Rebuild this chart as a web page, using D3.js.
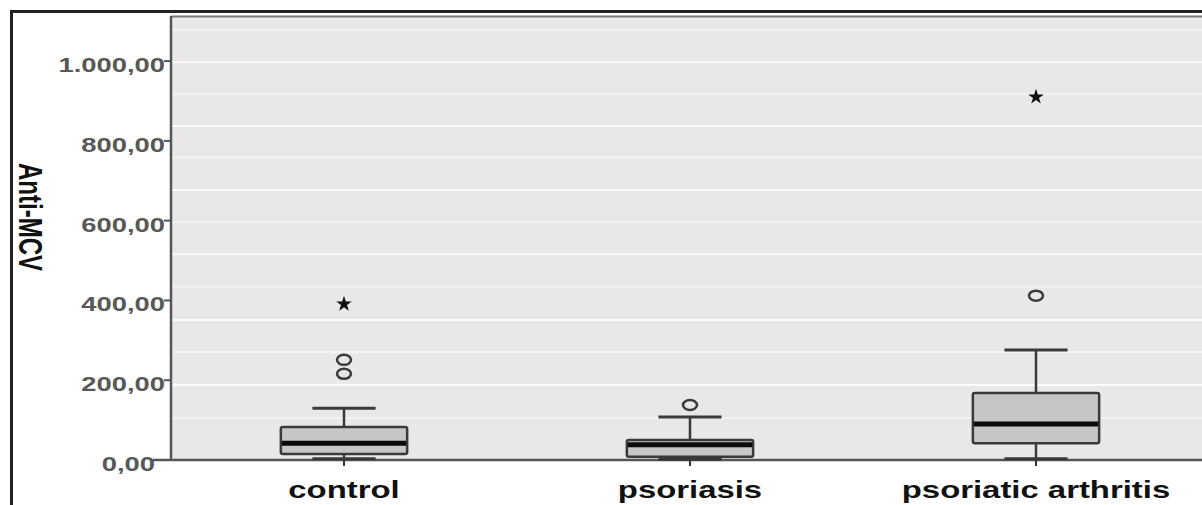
<!DOCTYPE html>
<html>
<head>
<meta charset="utf-8">
<script src="https://cdn.jsdelivr.net/npm/d3@7"></script>
<style>
  body { margin: 0; background: #fff; }
  svg { display: block; font-family: "Liberation Sans", Arial, sans-serif; }
</style>
</head>
<body>
<svg width="1202" height="505"></svg>
<script>
// data
var categories = ["control", "psoriasis", "psoriatic arthritis"];
var q1 = [15, 8, 42];
var medians = [42, 38, 90];
var q3 = [83, 50, 168];
var whiskerLow = [3, 2, 3];
var whiskerHigh = [130, 108, 276];
var outlierCircles = [[251, 216], [138], [412]];
var outlierStars = [[391], [], [910]];
var yTicks = [0, 200, 400, 600, 800, 1000];
var gridValues = [105, 188, 271, 351, 434, 516, 596, 677, 759, 837, 917, 997, 1078];

var svg = d3.select("svg"),
    width = +svg.attr("width"),
    height = +svg.attr("height");

var plotLeft = 171, plotRight = 1209, plotTop = 16, plotBottom = 460;
var sx = 1.37; // the source picture is stretched sideways

var y = d3.scaleLinear().domain([0, 1113]).range([plotBottom, plotTop]);
var x = d3.scaleBand().domain(categories).range([plotLeft, plotRight]).padding(0);

var locale = d3.formatLocale({decimal: ",", thousands: ".", grouping: [3], currency: ["", ""]});
var fmt = locale.format(",.2f");

var boxes = categories.map(function(c, i) {
  return {cat: c, q1: q1[i], med: medians[i], q3: q3[i], lo: whiskerLow[i], hi: whiskerHigh[i],
          circles: outlierCircles[i], stars: outlierStars[i]};
});

// outer frame
svg.append("line").attr("x1", 11.5).attr("x2", 11.5).attr("y1", 10).attr("y2", height)
    .attr("stroke", "#222").attr("stroke-width", 3);
svg.append("line").attr("x1", 10).attr("x2", width).attr("y1", 11.5).attr("y2", 11.5)
    .attr("stroke", "#222").attr("stroke-width", 3);

// plot background
svg.append("rect")
    .attr("x", plotLeft).attr("y", plotTop)
    .attr("width", plotRight - plotLeft).attr("height", plotBottom - plotTop)
    .attr("fill", "#e9e8e6");
svg.append("line").attr("x1", plotLeft).attr("x2", width).attr("y1", plotTop + 0.5).attr("y2", plotTop + 0.5)
    .attr("stroke", "#777").attr("stroke-width", 2);

// grid lines
svg.append("g")
  .selectAll("line")
    .data(gridValues)
  .enter().append("line")
    .attr("x1", plotLeft).attr("x2", plotRight)
    .attr("y1", function(d) { return y(d); })
    .attr("y2", function(d) { return y(d); })
    .attr("stroke", "#fff")
    .attr("stroke-width", 2)
    .attr("stroke-opacity", function(d, i) { return i % 2 ? 0.8 : 0.5; });

// y axis
var yAxis = svg.append("g").attr("class", "y-axis");
yAxis.append("line")
    .attr("x1", plotLeft).attr("x2", plotLeft).attr("y1", plotTop).attr("y2", plotBottom)
    .attr("stroke", "#555").attr("stroke-width", 2.5);
yAxis.selectAll("line.tick")
    .data(yTicks)
  .enter().append("line")
    .attr("class", "tick")
    .attr("x1", function(d) { return d === 0 ? 153 : 164; })
    .attr("x2", plotLeft)
    .attr("y1", function(d) { return y(d); })
    .attr("y2", function(d) { return y(d); })
    .attr("stroke", "#555").attr("stroke-width", 2);
yAxis.selectAll("text")
    .data(yTicks)
  .enter().append("text")
    .attr("transform", function(d) { return "translate(" + (d === 0 ? 155 : 165) + "," + (y(d) + 11) + ") scale(" + sx + ",1)"; })
    .attr("text-anchor", "end")
    .attr("font-size", 20)
    .attr("font-weight", "bold")
    .attr("fill", "#585858")
    .text(function(d) { return fmt(d); });

svg.append("text")
    .attr("transform", "translate(30," + 217 + ") scale(" + sx + ",1) rotate(90)")
    .attr("text-anchor", "middle")
    .attr("dominant-baseline", "central")
    .attr("font-size", 24)
    .attr("font-weight", "bold")
    .attr("fill", "#111")
    .text("Anti-MCV");

// x axis
var xAxis = svg.append("g").attr("class", "x-axis");
xAxis.append("line")
    .attr("x1", 153).attr("x2", width).attr("y1", plotBottom).attr("y2", plotBottom)
    .attr("stroke", "#555").attr("stroke-width", 2.5);
xAxis.selectAll("line.tick")
    .data(categories)
  .enter().append("line")
    .attr("class", "tick")
    .attr("x1", function(d) { return x(d) + x.bandwidth() / 2; })
    .attr("x2", function(d) { return x(d) + x.bandwidth() / 2; })
    .attr("y1", plotBottom).attr("y2", plotBottom + 6)
    .attr("stroke", "#333").attr("stroke-width", 2);
xAxis.selectAll("text")
    .data(categories)
  .enter().append("text")
    .attr("transform", function(d) { return "translate(" + (x(d) + x.bandwidth() / 2) + ",498) scale(" + sx + ",1)"; })
    .attr("text-anchor", "middle")
    .attr("font-size", 24)
    .attr("font-weight", "bold")
    .attr("fill", "#111")
    .text(function(d) { return d; });

// boxes
var boxW = x.bandwidth() * 0.365;
var capW = boxW / 2;

var g = svg.append("g")
  .selectAll("g.box")
    .data(boxes)
  .enter().append("g")
    .attr("class", "box")
    .attr("transform", function(d) { return "translate(" + (x(d.cat) + x.bandwidth() / 2) + ",0)"; });

// whiskers
g.append("line")
    .attr("x1", 0).attr("x2", 0)
    .attr("y1", function(d) { return y(d.hi); })
    .attr("y2", function(d) { return y(d.q3); })
    .attr("stroke", "#3a3a3a").attr("stroke-width", 2.5);
g.append("line")
    .attr("x1", 0).attr("x2", 0)
    .attr("y1", function(d) { return y(d.q1); })
    .attr("y2", function(d) { return y(d.lo); })
    .attr("stroke", "#3a3a3a").attr("stroke-width", 2.5);
g.append("line")
    .attr("x1", -capW / 2).attr("x2", capW / 2)
    .attr("y1", function(d) { return y(d.hi); })
    .attr("y2", function(d) { return y(d.hi); })
    .attr("stroke", "#3a3a3a").attr("stroke-width", 3);
g.append("line")
    .attr("x1", -capW / 2).attr("x2", capW / 2)
    .attr("y1", function(d) { return y(d.lo); })
    .attr("y2", function(d) { return y(d.lo); })
    .attr("stroke", "#3a3a3a").attr("stroke-width", 3);

g.append("rect")
    .attr("x", -boxW / 2)
    .attr("width", boxW)
    .attr("y", function(d) { return y(d.q3); })
    .attr("height", function(d) { return y(d.q1) - y(d.q3); })
    .attr("rx", 2)
    .attr("fill", "#c6c6c5")
    .attr("stroke", "#3a3a3a").attr("stroke-width", 2.5);

g.append("line")
    .attr("x1", -boxW / 2 + 1).attr("x2", boxW / 2 - 1)
    .attr("y1", function(d) { return y(d.med); })
    .attr("y2", function(d) { return y(d.med); })
    .attr("stroke", "#0a0a0a").attr("stroke-width", 5);

// outliers
g.selectAll("ellipse")
    .data(function(d) { return d.circles; })
  .enter().append("ellipse")
    .attr("cx", 0)
    .attr("cy", function(d) { return y(d); })
    .attr("rx", 7).attr("ry", 5)
    .attr("fill", "none")
    .attr("stroke", "#3a3a3a").attr("stroke-width", 2.5);

var star = d3.symbol().type(d3.symbolStar).size(75);
g.selectAll("path.star")
    .data(function(d) { return d.stars; })
  .enter().append("path")
    .attr("class", "star")
    .attr("transform", function(d) { return "translate(0," + y(d) + ")"; })
    .attr("d", star)
    .attr("fill", "#111");
</script>
</body>
</html>
